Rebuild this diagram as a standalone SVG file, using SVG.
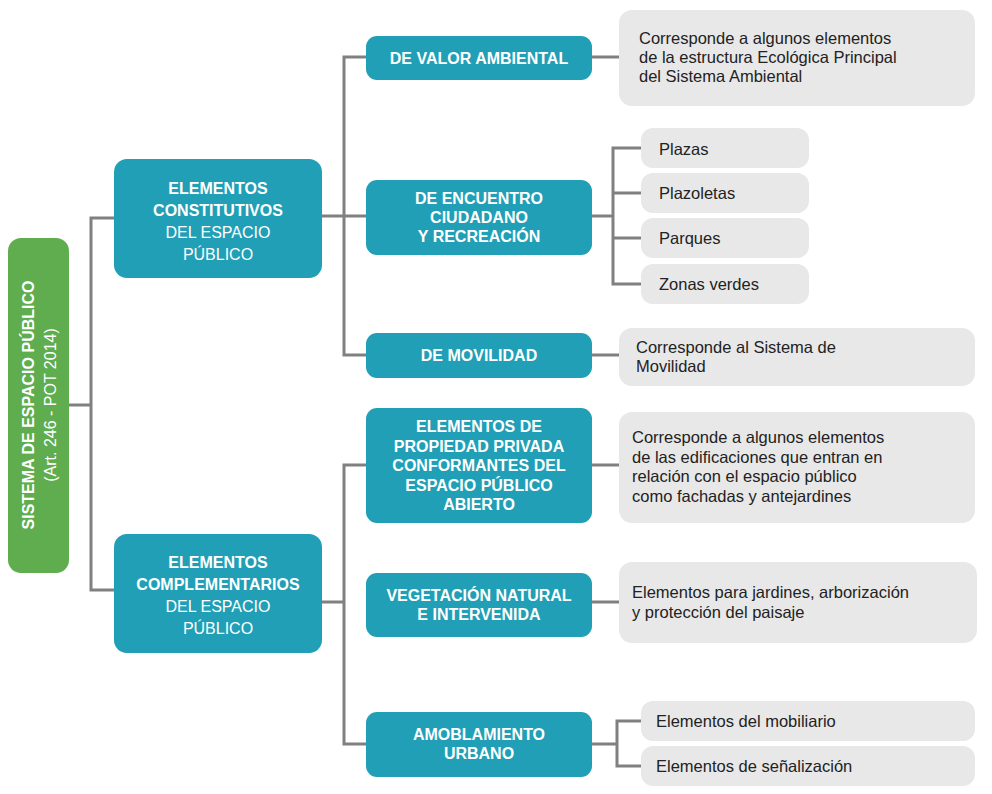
<svg xmlns="http://www.w3.org/2000/svg" width="992" height="794" viewBox="0 0 992 794">
<style>
.t{fill:#209fb6}.g{fill:#e8e8e8}
.w{font-family:"Liberation Sans",Arial,sans-serif;font-size:16px;fill:#fff;text-anchor:middle}
.b{font-weight:bold}
.d{font-family:"Liberation Sans",Arial,sans-serif;font-size:16.5px;fill:#222}
#c path{fill:none;stroke:#808080;stroke-width:3}
</style>
<rect width="992" height="794" fill="#fff"/>
<g id="c">
<path d="M69 405H91M114 218H91V590H114"/>
<path d="M322 216H366M366 57H344V355H366"/>
<path d="M322 602H344M366 465H344V744H366"/>
<path d="M592 57H619M592 216H613M641 148H613V284H641M613 193H641M613 238H641"/>
<path d="M592 355H619M592 465H619M592 602H619"/>
<path d="M592 744H617M641 721H617V766H641"/>
</g>
<g id="root"><rect x="8" y="238" width="61" height="335" rx="13" fill="#5fad4e"/>
<text transform="translate(34 405) rotate(-90)" class="w b" font-size="17">SISTEMA DE ESPACIO PÚBLICO</text>
<text transform="translate(56 405) rotate(-90)" class="w" font-size="16">(Art. 246  - POT 2014)</text></g>
<g id="constitutivos"><rect class="t" x="114" y="159" width="208" height="119" rx="13"/>
<text class="w" x="218" y="194"><tspan class="b">ELEMENTOS</tspan><tspan class="b" x="218" dy="22">CONSTITUTIVOS</tspan><tspan x="218" dy="22">DEL ESPACIO</tspan><tspan x="218" dy="22">PÚBLICO</tspan></text></g>
<g id="complementarios"><rect class="t" x="114" y="534" width="208" height="119" rx="13"/>
<text class="w" x="218" y="568"><tspan class="b">ELEMENTOS</tspan><tspan class="b" x="218" dy="22">COMPLEMENTARIOS</tspan><tspan x="218" dy="22">DEL ESPACIO</tspan><tspan x="218" dy="22">PÚBLICO</tspan></text></g>
<g id="valor"><rect class="t" x="366" y="36" width="226" height="44" rx="11"/><text class="w b" x="479" y="64">DE VALOR AMBIENTAL</text></g>
<g id="encuentro"><rect class="t" x="366" y="180" width="226" height="75" rx="11"/><text class="w b" x="479" y="204">DE ENCUENTRO<tspan x="479" dy="19">CIUDADANO</tspan><tspan x="479" dy="19">Y RECREACIÓN</tspan></text></g>
<g id="movilidad"><rect class="t" x="366" y="333" width="226" height="45" rx="11"/><text class="w b" x="479" y="361">DE MOVILIDAD</text></g>
<g id="propiedad"><rect class="t" x="366" y="408" width="226" height="115" rx="11"/><text class="w b" x="479" y="432">ELEMENTOS DE<tspan x="479" dy="19.5">PROPIEDAD PRIVADA</tspan><tspan x="479" dy="19.5">CONFORMANTES DEL</tspan><tspan x="479" dy="19.5">ESPACIO PÚBLICO</tspan><tspan x="479" dy="19.5">ABIERTO</tspan></text></g>
<g id="vegetacion"><rect class="t" x="366" y="573" width="226" height="64" rx="11"/><text class="w b" x="479" y="601">VEGETACIÓN NATURAL<tspan x="479" dy="19">E INTERVENIDA</tspan></text></g>
<g id="amoblamiento"><rect class="t" x="366" y="712" width="226" height="65" rx="11"/><text class="w b" x="479" y="740">AMOBLAMIENTO<tspan x="479" dy="19">URBANO</tspan></text></g>
<g id="d1"><rect class="g" x="619" y="10" width="356" height="96" rx="13"/><text class="d" x="639" y="44">Corresponde a algunos elementos<tspan x="639" dy="19">de la estructura Ecológica Principal</tspan><tspan x="639" dy="19">del Sistema Ambiental</tspan></text></g>
<g id="plazas"><rect class="g" x="641" y="128" width="168" height="40" rx="12"/><text class="d" x="659" y="155">Plazas</text></g>
<g id="plazoletas"><rect class="g" x="641" y="173" width="168" height="40" rx="12"/><text class="d" x="659" y="199">Plazoletas</text></g>
<g id="parques"><rect class="g" x="641" y="218" width="168" height="40" rx="12"/><text class="d" x="659" y="244">Parques</text></g>
<g id="zonas"><rect class="g" x="641" y="264" width="168" height="40" rx="12"/><text class="d" x="659" y="290">Zonas verdes</text></g>
<g id="d2"><rect class="g" x="619" y="328" width="356" height="58" rx="13"/><text class="d" x="636" y="353">Corresponde al Sistema de<tspan x="636" dy="19">Movilidad</tspan></text></g>
<g id="d3"><rect class="g" x="619" y="412" width="356" height="111" rx="13"/><text class="d" x="632" y="443">Corresponde a algunos elementos<tspan x="632" dy="19.5">de las edificaciones que entran en</tspan><tspan x="632" dy="19.5">relación con el espacio público</tspan><tspan x="632" dy="19.5">como fachadas y antejardines</tspan></text></g>
<g id="d4"><rect class="g" x="619" y="562" width="358" height="81" rx="13"/><text class="d" x="632" y="598">Elementos para jardines, arborización<tspan x="632" dy="20">y protección del paisaje</tspan></text></g>
<g id="mobiliario"><rect class="g" x="641" y="701" width="334" height="40" rx="12"/><text class="d" x="656" y="727">Elementos del mobiliario</text></g>
<g id="senal"><rect class="g" x="641" y="746" width="334" height="40" rx="12"/><text class="d" x="656" y="772">Elementos de señalización</text></g>
</svg>
